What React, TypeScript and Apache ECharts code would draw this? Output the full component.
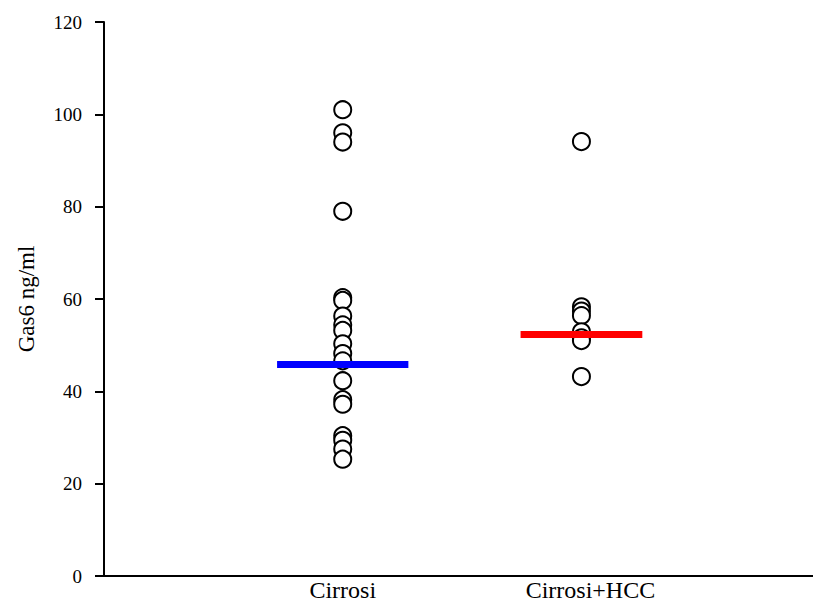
import React, { useEffect, useRef } from "react";
import * as echarts from "echarts";

// Group labels placed at x = 1, 2 on a numeric axis
const groups = ["Cirrosi", "Cirrosi+HCC"];
// Gas6 readings (ng/ml) per patient, listed from highest to lowest
const cirrosiValues = [101, 96, 94, 79, 60.3, 59.7, 56.3, 54.4, 53.2, 50.3, 48.2, 46.6, 42.3, 38.2, 37.2, 30.4, 29.4, 27.5, 25.3];
const hccValues = [94.1, 58.3, 57.4, 56.4, 52.9, 51.6, 51, 43.2];
// Median of each group
const medians = [45.8, 52.3];
const medianColors = ["#0000ff", "#ff0000"];
const medianHalfWidths = [0.275, 0.255];
const yTicks = [0, 20, 40, 60, 80, 100, 120];

const FONT = "'Liberation Serif', 'Times New Roman', serif";

export default function App() {
  const ref = useRef<HTMLDivElement>(null);

  useEffect(() => {
    if (!ref.current) return;
    const chart = echarts.init(ref.current, undefined, { renderer: "svg" });

    const pointSeries = [cirrosiValues, hccValues].map((vals, gi) => ({
      type: "scatter",
      name: groups[gi],
      symbol: "circle",
      symbolSize: 17,
      z: 2,
      itemStyle: { color: "#ffffff", borderColor: "#000000", borderWidth: 2, opacity: 1 },
      data: vals.map((v) => [gi + 1, v]),
    }));

    const medianSeries = medians.map((m, gi) => ({
      type: "line",
      name: groups[gi] + " median",
      symbol: "none",
      z: 3,
      lineStyle: { color: medianColors[gi], width: 7, cap: "butt" },
      data: [
        [gi + 1 - medianHalfWidths[gi], m],
        [gi + 1 + medianHalfWidths[gi], m],
      ],
    }));

    const labelStyle = { fontFamily: FONT, fontSize: 24, lineHeight: 24, color: "#000" };

    chart.setOption({
      animation: false,
      backgroundColor: "#ffffff",
      grid: { left: 104, right: 0, top: 22, bottom: 27, containLabel: false, outerBoundsMode: "none" },
      xAxis: {
        type: "value",
        min: 0,
        max: 2.97,
        interval: 1,
        splitLine: { show: false },
        axisTick: { show: false },
        axisLine: { show: true, lineStyle: { color: "#000", width: 2 } },
        axisLabel: {
          margin: 2,
          ...labelStyle,
          showMinLabel: true,
          showMaxLabel: false,
          rich: {
            a: { ...labelStyle, padding: [0, 0, 0, 0] },
            b: { ...labelStyle, padding: [0, 0, 0, 18] },
          },
          formatter: (v: number) => {
            if (!(v >= 1 && v <= groups.length && Number.isInteger(v))) return "";
            return v === 1 ? `{a|${groups[0]}}` : `{b|${groups[1]}}`;
          },
        },
      },
      yAxis: {
        type: "value",
        min: yTicks[0],
        max: yTicks[yTicks.length - 1],
        interval: 20,
        name: "Gas6 ng/ml",
        nameLocation: "middle",
        nameGap: 66,
        nameRotate: 90,
        nameTextStyle: { fontFamily: FONT, fontSize: 23, color: "#000" },
        splitLine: { show: false },
        axisLine: { show: true, lineStyle: { color: "#000", width: 2 } },
        axisTick: { show: true, inside: false, length: 9, lineStyle: { color: "#000", width: 2 } },
        axisLabel: { margin: 22, fontFamily: FONT, fontSize: 19, color: "#000" },
      },
      series: [...pointSeries, ...medianSeries],
    });

    return () => chart.dispose();
  }, []);

  return (
    <div
      ref={ref}
      style={{ position: "fixed", left: 0, top: 0, width: 813, height: 603, background: "#fff" }}
    />
  );
}
